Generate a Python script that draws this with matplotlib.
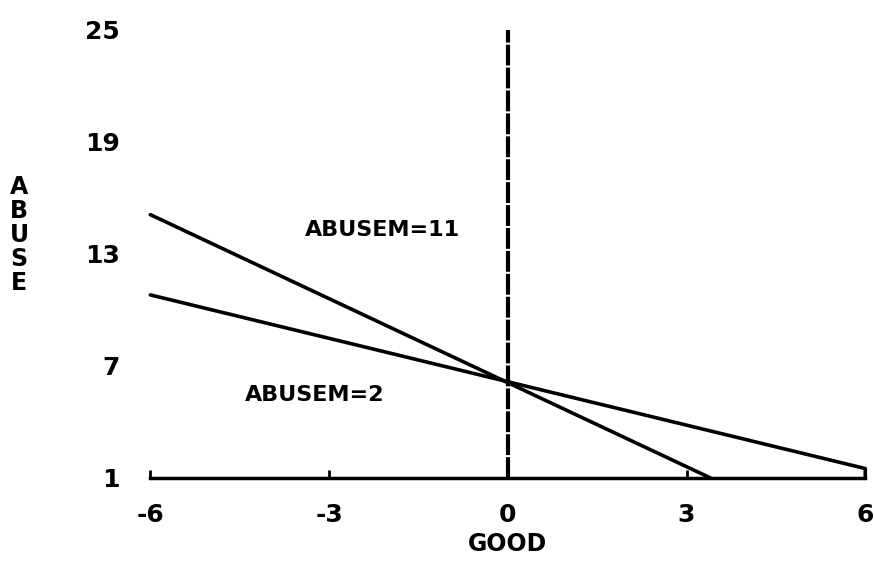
import matplotlib
matplotlib.use('Agg')
import matplotlib.pyplot as plt
from matplotlib import font_manager

# values
good_ticks = [-6, -3, 0, 3, 6]
abuse_ticks = [1, 7, 13, 19, 25]

good_m11 = [-6, 3.4]
abuse_m11 = [15.1, 1.0]

good_m2 = [-6, 6, 6]
abuse_m2 = [10.8, 1.5, 1.0]

names = [f.name for f in font_manager.fontManager.ttflist]
fam = 'Liberation Sans Narrow' if 'Liberation Sans Narrow' in names else 'DejaVu Sans'
plt.rcParams['font.family'] = fam
plt.rcParams['font.weight'] = 'bold'

fig = plt.figure(figsize=(8.74, 5.73), dpi=100)
ax = fig.add_axes([0.172, 0.166, 0.818, 0.782])

ax.plot(good_m11, abuse_m11, color='black', lw=2.6, clip_on=False, solid_capstyle='round')
ax.plot(good_m2, abuse_m2, color='black', lw=2.6, clip_on=False, solid_capstyle='round')
ax.plot([0, 0], [1, 25], color='black', lw=3, ls=(0, (5, 0.5)), clip_on=False)

ax.text(-2.1, 14.3, 'ABUSEM=11', fontsize=16, fontweight='bold', ha='center', va='center')
ax.text(-3.25, 5.45, 'ABUSEM=2', fontsize=16, fontweight='bold', ha='center', va='center')

ax.set_xlim(-6, 6)
ax.set_ylim(1, 25)
ax.set_xticks(good_ticks)
ax.set_yticks(abuse_ticks)
ax.set_xticklabels([str(t) for t in good_ticks], fontsize=18, fontweight='bold')
ax.set_yticklabels([str(t) for t in abuse_ticks], fontsize=18, fontweight='bold')

for s in ['top', 'right', 'left']:
    ax.spines[s].set_visible(False)
ax.spines['bottom'].set_linewidth(2.5)
ax.tick_params(axis='x', direction='in', length=6, width=2, pad=18)
ax.tick_params(axis='y', length=0, pad=22)

ax.set_xlabel('GOOD', fontsize=17, fontweight='bold', labelpad=4)
fig.text(0.022, 0.59, '\n'.join('ABUSE'), fontsize=17, fontweight='bold',
         ha='center', va='center', linespacing=1.0)

fig.savefig('out.png', dpi=100)
